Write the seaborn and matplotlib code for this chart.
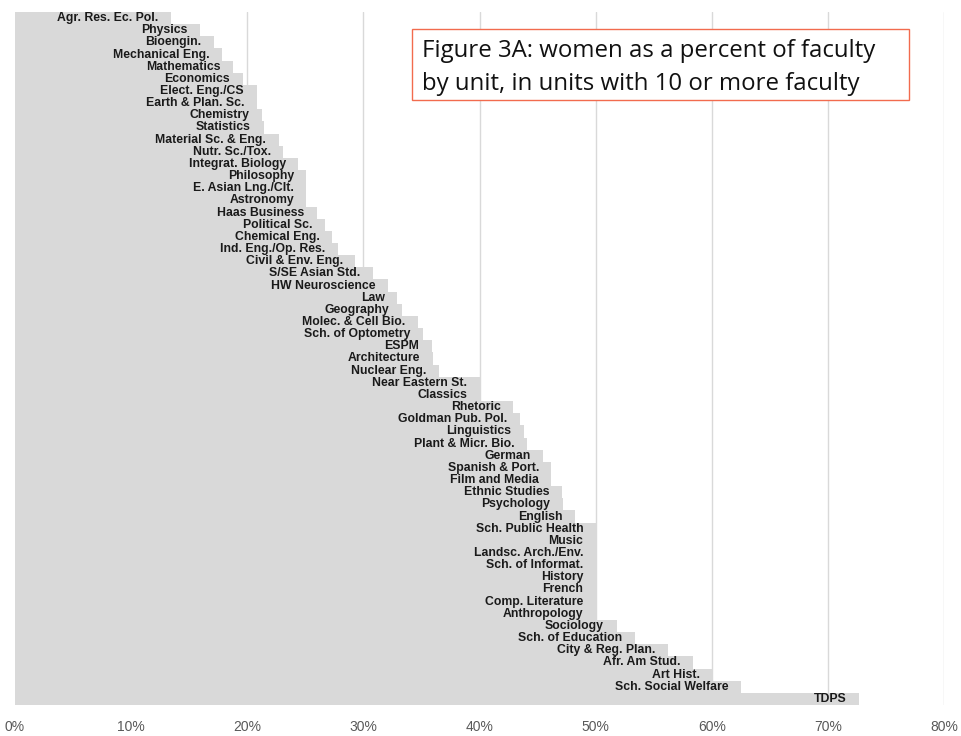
import matplotlib
matplotlib.use("Agg")
import matplotlib.pyplot as plt
from matplotlib.patches import Rectangle
import seaborn as sns
import pandas as pd

# units, ordered from lowest to highest share of women faculty
units = [
    "Agr. Res. Ec. Pol.", "Physics", "Bioengin.", "Mechanical Eng.", "Mathematics",
    "Economics", "Elect. Eng./CS", "Earth & Plan. Sc.", "Chemistry", "Statistics",
    "Material Sc. & Eng.", "Nutr. Sc./Tox.", "Integrat. Biology", "Philosophy",
    "E. Asian Lng./Clt.", "Astronomy", "Haas Business", "Political Sc.",
    "Chemical Eng.", "Ind. Eng./Op. Res.", "Civil & Env. Eng.", "S/SE Asian Std.",
    "HW Neuroscience", "Law", "Geography", "Molec. & Cell Bio.", "Sch. of Optometry",
    "ESPM", "Architecture", "Nuclear Eng.", "Near Eastern St.", "Classics",
    "Rhetoric", "Goldman Pub. Pol.", "Linguistics", "Plant & Micr. Bio.", "German",
    "Spanish & Port.", "Film and Media", "Ethnic Studies", "Psychology", "English",
    "Sch. Public Health", "Music", "Landsc. Arch./Env.", "Sch. of Informat.",
    "History", "French", "Comp. Literature", "Anthropology", "Sociology",
    "Sch. of Education", "City & Reg. Plan.", "Afr. Am Stud.", "Art Hist.",
    "Sch. Social Welfare", "TDPS",
]
pct_women = [
    0.134, 0.159, 0.171, 0.178, 0.188,
    0.196, 0.208, 0.208, 0.213, 0.214,
    0.227, 0.231, 0.244, 0.251,
    0.251, 0.251, 0.260, 0.267,
    0.273, 0.278, 0.293, 0.308,
    0.321, 0.329, 0.333, 0.347, 0.351,
    0.359, 0.360, 0.365, 0.400, 0.400,
    0.429, 0.435, 0.438, 0.441, 0.455,
    0.462, 0.462, 0.471, 0.472, 0.482,
    0.500, 0.500, 0.500, 0.500,
    0.500, 0.500, 0.500, 0.500, 0.518,
    0.534, 0.562, 0.584, 0.601,
    0.625, 0.727,
]
x_ticks = [0, 0.1, 0.2, 0.3, 0.4, 0.5, 0.6, 0.7, 0.8]
x_ticklabels = ["0%", "10%", "20%", "30%", "40%", "50%", "60%", "70%", "80%"]
title_text = "Figure 3A: women as a percent of faculty\nby unit, in units with 10 or more faculty"

df = pd.DataFrame({"unit": units, "pct": pct_women})

sns.set_style("white")
plt.rcParams["font.family"] = ["Liberation Sans", "DejaVu Sans"]

W, H = 961, 736
fig = plt.figure(figsize=(W / 100, H / 100), dpi=100)
ax = fig.add_axes([15 / W, 1 - 705 / H, (944 - 15) / W, (705 - 12) / H])

sns.barplot(data=df, x="pct", y="unit", orient="h", color="#D9D9D9",
            saturation=1, width=1.0, linewidth=0, ax=ax)

# labels sit inside each bar, right-aligned near its end
for i, (name, v) in enumerate(zip(units, pct_women)):
    ax.annotate(name, xy=(v, i), xytext=(-9, 0), textcoords="offset points",
                ha="right", va="center", fontsize=8.8, fontweight="bold",
                family=["Liberation Sans Narrow", "Liberation Sans", "DejaVu Sans"],
                color="#1a1a1a")

ax.set_xlim(0, 0.8)
ax.set_ylim(len(units) - 0.5, -0.5)
ax.set_xticks(x_ticks)
ax.set_xticklabels(x_ticklabels, fontsize=10, color="#595959")
ax.set_yticks([])
ax.set_xlabel("")
ax.set_ylabel("")
ax.tick_params(axis="x", length=0, pad=11)
ax.set_axisbelow(True)
ax.grid(axis="x", color="#D9D9D9", linewidth=1)
ax.grid(axis="y", visible=False)
for s in ax.spines.values():
    s.set_visible(False)

# title box
fig.patches.append(Rectangle((412 / W, 1 - 100 / H), (909 - 412) / W, (100 - 29) / H,
                             transform=fig.transFigure, facecolor="white",
                             edgecolor="#F26B4E", linewidth=1, zorder=5))
fig.text(422 / W, 1 - 67.5 / H, title_text, fontsize=17.3, color="#111111",
         family=["Open Sans", "DejaVu Sans"],
         ha="left", va="center", linespacing=1.55, zorder=6)

fig.savefig("out.png", dpi=100)
